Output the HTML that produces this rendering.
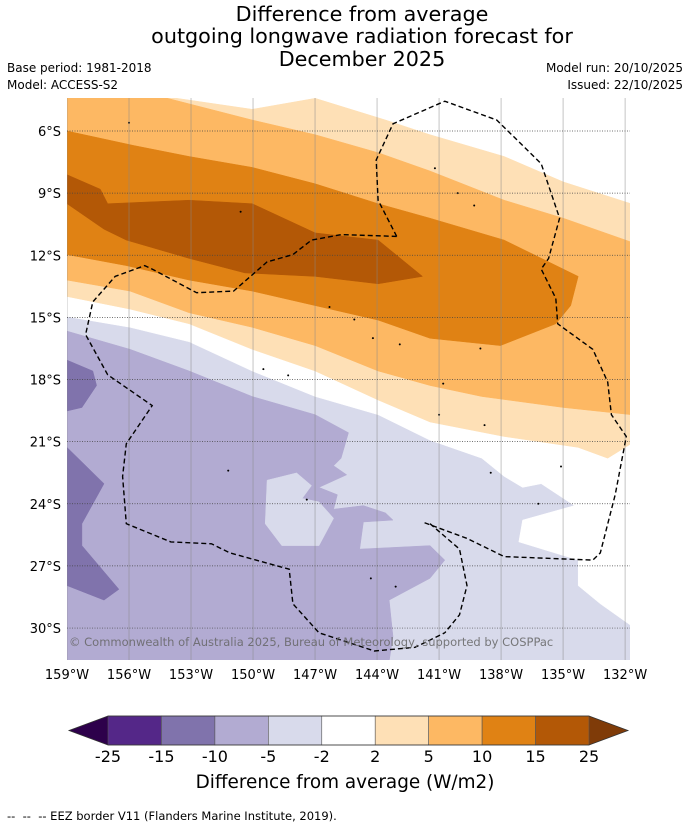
<!DOCTYPE html>
<html><head><meta charset="utf-8">
<style>
html,body{margin:0;padding:0;background:#fff;}
body{width:690px;height:827px;overflow:hidden;font-family:"DejaVu Sans","Liberation Sans",sans-serif;}
svg text{font-family:"DejaVu Sans","Liberation Sans",sans-serif;}
</style></head>
<body>
<svg id="chart" width="690" height="827" viewBox="0 0 690 827" xmlns="http://www.w3.org/2000/svg">
  <text x="362" y="21" font-size="20.7" text-anchor="middle">Difference from average</text>
  <text x="362" y="43" font-size="20.7" text-anchor="middle">outgoing longwave radiation forecast for</text>
  <text x="362" y="66" font-size="20.7" text-anchor="middle">December 2025</text>
  <text x="7" y="72" font-size="12">Base period: 1981-2018</text>
  <text x="7" y="89" font-size="12">Model: ACCESS-S2</text>
  <text x="683" y="72" font-size="12" text-anchor="end">Model run: 20/10/2025</text>
  <text x="683" y="89" font-size="12" text-anchor="end">Issued: 22/10/2025</text>
  <defs><clipPath id="mapclip"><rect x="67" y="98" width="563" height="562"/></clipPath></defs>
  <g id="map" clip-path="url(#mapclip)"></g>
  <g id="axes"></g>
  <g id="cbar"></g>
  <text x="345" y="788" font-size="18.4" text-anchor="middle">Difference from average (W/m2)</text>
  <text x="7" y="820" font-size="11.5">-- &#160;-- &#160;-- EEZ border V11 (Flanders Marine Institute, 2019).</text>
</svg>
<script>
const lonTicks = [-159,-156,-153,-150,-147,-144,-141,-138,-135,-132];
const latTicks = [-6,-9,-12,-15,-18,-21,-24,-27,-30];
const levelLabels = ["-25","-15","-10","-5","-2","2","5","10","15","25"];
const levelColors = ["#542788","#8073ac","#b2abd2","#d8daeb","#ffffff","#fee0b6","#fdb863","#e08214","#b35806"];

const whiteRegion = [[-159,-4.4],[-131.7,-4.4],[-131.71,-29.88],[-133.2,-28.83],[-134.27,-27.95],[-134.27,-26.72],[-137.14,-25.84],[-136.96,-24.79],[-134.45,-24.09],[-136.06,-23.03],[-136.96,-23.21],[-137.85,-22.68],[-138.93,-21.8],[-141.44,-20.93],[-143.95,-19.7],[-146.99,-18.82],[-150.04,-17.59],[-153.09,-16.18],[-155.95,-15.48],[-159,-14.96]];
const purpleRegion = [[-159,-15.66],[-155.95,-16.54],[-153.09,-17.59],[-150.04,-18.82],[-146.99,-19.7],[-145.38,-20.57],[-145.74,-21.8],[-146.1,-22.16],[-145.47,-22.6],[-146.81,-23.21],[-145.92,-23.56],[-146.1,-24.26],[-144.66,-24.09],[-143.59,-24.44],[-143.23,-24.79],[-144.66,-24.88],[-144.84,-26.19],[-141.44,-26.02],[-140.72,-26.72],[-141.44,-27.6],[-143.41,-28.65],[-143.23,-30.41],[-143.41,-31.6],[-159,-31.6]];
const lavenderHole = [[-149.32,-22.86],[-147.89,-22.51],[-147.17,-23.12],[-147.62,-23.74],[-146.81,-23.91],[-146.1,-24.7],[-146.81,-26.02],[-148.61,-26.02],[-149.41,-24.96]];
const darkPurple1 = [[-159,-17.06],[-157.75,-17.59],[-157.57,-18.29],[-158.28,-19.35],[-159,-19.52]];
const darkPurple2 = [[-159,-21.28],[-157.21,-23.03],[-158.28,-24.96],[-158.28,-26.02],[-156.49,-28.13],[-157.21,-28.65],[-159,-27.95]];
const lightOrangeRegion = [[-159,-4.4],[-153.98,-4.38],[-150.04,-4.95],[-146.99,-4.42],[-143.59,-5.47],[-141.44,-6.18],[-137.85,-7.23],[-134.99,-8.46],[-131.71,-9.51],[-131.71,-21.1],[-132.84,-21.8],[-134.27,-21.28],[-137.85,-20.75],[-141.44,-20.05],[-143.95,-18.99],[-146.99,-17.59],[-150.04,-16.54],[-153.09,-15.31],[-155.95,-14.6],[-159,-13.99]];
const orangeRegion = [[-159,-4.4],[-154.3,-4.38],[-150.04,-5.47],[-146.99,-6.18],[-143.95,-7.05],[-141.44,-7.93],[-137.85,-9.34],[-134.99,-10.21],[-131.71,-11.36],[-131.71,-19.7],[-134.99,-19.35],[-138.93,-18.82],[-141.44,-18.29],[-143.95,-17.59],[-146.99,-16.36],[-150.04,-15.48],[-153.09,-14.78],[-155.95,-13.73],[-159,-13.2]];
const darkOrangeRegion = [[-159,-6],[-155.77,-6.7],[-153.09,-7.23],[-150.04,-7.76],[-146.99,-8.55],[-143.95,-9.51],[-141.44,-10.21],[-137.85,-11.27],[-134.27,-13.02],[-134.63,-14.43],[-135.35,-15.31],[-138.03,-16.36],[-141.44,-16.01],[-143.95,-15.13],[-146.99,-14.43],[-150.04,-13.73],[-153.09,-13.2],[-156.13,-12.5],[-159,-11.97]];
const brownRegion = [[-159,-8.11],[-157.39,-8.81],[-157.03,-9.51],[-153.09,-9.34],[-150.04,-9.51],[-146.99,-10.92],[-143.95,-11.27],[-141.8,-13.02],[-143.95,-13.38],[-146.99,-13.02],[-150.4,-12.85],[-153.09,-12.15],[-156.13,-11.27],[-157.21,-10.74],[-159,-9.51]];

const eezNorthEast = [[-143.05,-11.09],[-143.95,-9.34],[-144.04,-7.4],[-143.23,-5.65],[-140.72,-4.56],[-138.21,-5.47],[-136.06,-7.58],[-135.17,-10.21],[-135.7,-12.15],[-136.06,-12.67],[-135.35,-14.08],[-135.26,-15.31],[-133.56,-16.54],[-132.84,-18.12],[-132.66,-19.7],[-131.94,-20.75],[-132.48,-23.56],[-133.2,-26.37],[-133.56,-26.72],[-137.85,-26.55],[-139.65,-25.67],[-141.8,-24.88]];
const eezSouth = [[-141.44,-24.96],[-140.01,-26.19],[-139.65,-27.95],[-140.01,-29.36],[-140.72,-30.23]];
const eezWest = [[-143.05,-11.09],[-145.74,-11.0],[-147.17,-11.27],[-148.07,-11.97],[-149.32,-12.32],[-150.94,-13.73],[-152.73,-13.81],[-154.88,-12.67],[-155.24,-12.5],[-156.67,-13.02],[-157.75,-14.25],[-158.1,-15.83],[-157.03,-17.77],[-154.88,-19.26],[-156.13,-21.1],[-156.31,-22.68],[-156.13,-24.96],[-153.98,-25.84],[-152.01,-25.93],[-151.12,-26.37],[-148.25,-27.16],[-148.07,-28.83],[-146.81,-30.23],[-144.13,-31.11],[-142.16,-30.93],[-140.72,-30.23]];
const islands = [[-156,-5.6],[-150.6,-9.9],[-141.2,-7.8],[-140.1,-9.0],[-139.3,-9.6],[-146.3,-14.5],[-145.1,-15.1],[-144.2,-16.0],[-142.9,-16.3],[-149.5,-17.5],[-148.3,-17.8],[-140.8,-18.2],[-138.8,-20.2],[-141.0,-19.7],[-138.5,-22.5],[-147.4,-23.8],[-151.2,-22.4],[-144.3,-27.6],[-135.1,-22.2],[-136.2,-24.0],[-143.1,-28.0],[-139.0,-16.5]];

const NS = "http://www.w3.org/2000/svg";
const X0 = 67, PXD = 20.67, Y0 = 131, PYD = 20.71;
function xScale(lon){ return X0 + (lon + 159) * PXD; }
function yScale(lat){ return Y0 + (-6 - lat) * PYD; }
function pts(arr){ return arr.map(p => xScale(p[0]).toFixed(1) + "," + yScale(p[1]).toFixed(1)).join(" "); }
const map = document.getElementById("map");
const axes = document.getElementById("axes");
const cbar = document.getElementById("cbar");

const bg = document.createElementNS(NS, "rect");
bg.setAttribute("x", 67); bg.setAttribute("y", 98); bg.setAttribute("width", 563); bg.setAttribute("height", 562);
bg.setAttribute("fill", levelColors[3]);


map.appendChild(bg);

function addPoly(arr, color, name){
  const p = document.createElementNS(NS, "polygon");
  p.setAttribute("points", pts(arr));
  p.setAttribute("fill", color);
  p.setAttribute("stroke", color);
  p.setAttribute("stroke-width", "0.5");
  
  
  map.appendChild(p);
}
addPoly(whiteRegion, levelColors[4], "contour-white");
addPoly(purpleRegion, levelColors[2], "contour-minus-5");
addPoly(lavenderHole, levelColors[3], "contour-minus-2-patch");
addPoly(darkPurple1, levelColors[1], "contour-minus-10-north");
addPoly(darkPurple2, levelColors[1], "contour-minus-10-south");
addPoly(lightOrangeRegion, levelColors[5], "contour-plus-2");
addPoly(orangeRegion, levelColors[6], "contour-plus-5");
addPoly(darkOrangeRegion, levelColors[7], "contour-plus-10");
addPoly(brownRegion, levelColors[8], "contour-plus-15");

islands.forEach(d => {
  const c = document.createElementNS(NS, "circle");
  c.setAttribute("cx", xScale(d[0])); c.setAttribute("cy", yScale(d[1])); c.setAttribute("r", 1);
  c.setAttribute("fill", "#000");
  
  
  map.appendChild(c);
});

lonTicks.forEach(lon => {
  const l = document.createElementNS(NS, "line");
  l.setAttribute("x1", xScale(lon)); l.setAttribute("x2", xScale(lon));
  l.setAttribute("y1", 98); l.setAttribute("y2", 660);
  l.setAttribute("stroke", "#888"); l.setAttribute("stroke-width", "0.7"); l.setAttribute("opacity", "0.7");
  
  
  map.appendChild(l);
  const t = document.createElementNS(NS, "text");
  t.setAttribute("x", xScale(lon)); t.setAttribute("y", 679);
  t.setAttribute("font-size", "13"); t.setAttribute("text-anchor", "middle");
  t.textContent = Math.abs(lon) + "°W";
  
  
  axes.appendChild(t);
});
latTicks.forEach(lat => {
  const l = document.createElementNS(NS, "line");
  l.setAttribute("x1", 67); l.setAttribute("x2", 630);
  l.setAttribute("y1", yScale(lat)); l.setAttribute("y2", yScale(lat));
  l.setAttribute("stroke", "#444"); l.setAttribute("stroke-width", "0.7"); l.setAttribute("stroke-dasharray", "1,1.5");
  
  
  map.appendChild(l);
  const t = document.createElementNS(NS, "text");
  t.setAttribute("x", 61); t.setAttribute("y", yScale(lat) + 5);
  t.setAttribute("font-size", "13"); t.setAttribute("text-anchor", "end");
  t.textContent = Math.abs(lat) + "°S";
  
  
  axes.appendChild(t);
});

function addLine(arr, name){
  const p = document.createElementNS(NS, "polyline");
  p.setAttribute("points", pts(arr));
  p.setAttribute("fill", "none"); p.setAttribute("stroke", "#000");
  p.setAttribute("stroke-width", "1.4"); p.setAttribute("stroke-dasharray", "5,3");
  
  
  map.appendChild(p);
}
addLine(eezNorthEast, "eez-border-north-east");
addLine(eezSouth, "eez-border-south");
addLine(eezWest, "eez-border-west");

const cr = document.createElementNS(NS, "text");
cr.setAttribute("x", 69); cr.setAttribute("y", 646); cr.setAttribute("font-size", "11.5");
cr.setAttribute("fill", "#666"); cr.setAttribute("opacity", "0.85");
cr.textContent = "© Commonwealth of Australia 2025, Bureau of Meteorology, supported by COSPPac";


map.appendChild(cr);

// colorbar
const CB0 = 108, CB1 = 589, CBT = 716, CBB = 745;
const segW = (CB1 - CB0) / levelColors.length;
function cbX(i){ return CB0 + i * segW; }
const tipL = document.createElementNS(NS, "polygon");
tipL.setAttribute("points", `${CB0},${CBT} ${CB0},${CBB} 69,${(CBT+CBB)/2}`);
tipL.setAttribute("fill", "#2d004b");


cbar.appendChild(tipL);
const tipR = document.createElementNS(NS, "polygon");
tipR.setAttribute("points", `${CB1},${CBT} ${CB1},${CBB} 628,${(CBT+CBB)/2}`);
tipR.setAttribute("fill", "#7f3b08");


cbar.appendChild(tipR);
levelColors.forEach((c, i) => {
  const r = document.createElementNS(NS, "rect");
  r.setAttribute("x", cbX(i)); r.setAttribute("y", CBT); r.setAttribute("width", segW); r.setAttribute("height", CBB - CBT);
  r.setAttribute("fill", c); r.setAttribute("stroke", "#555"); r.setAttribute("stroke-width", "0.6");
  
  
  cbar.appendChild(r);
});
const outline = document.createElementNS(NS, "polygon");
outline.setAttribute("points", `69,${(CBT+CBB)/2} ${CB0},${CBT} ${CB1},${CBT} 628,${(CBT+CBB)/2} ${CB1},${CBB} ${CB0},${CBB}`);
outline.setAttribute("fill", "none"); outline.setAttribute("stroke", "#333"); outline.setAttribute("stroke-width", "0.8");


cbar.appendChild(outline);
levelLabels.forEach((lab, i) => {
  const t = document.createElementNS(NS, "text");
  t.setAttribute("x", cbX(i)); t.setAttribute("y", 762);
  t.setAttribute("font-size", "16"); t.setAttribute("text-anchor", "middle");
  t.textContent = lab;
  
  
  cbar.appendChild(t);
});
</script>
</body></html>
